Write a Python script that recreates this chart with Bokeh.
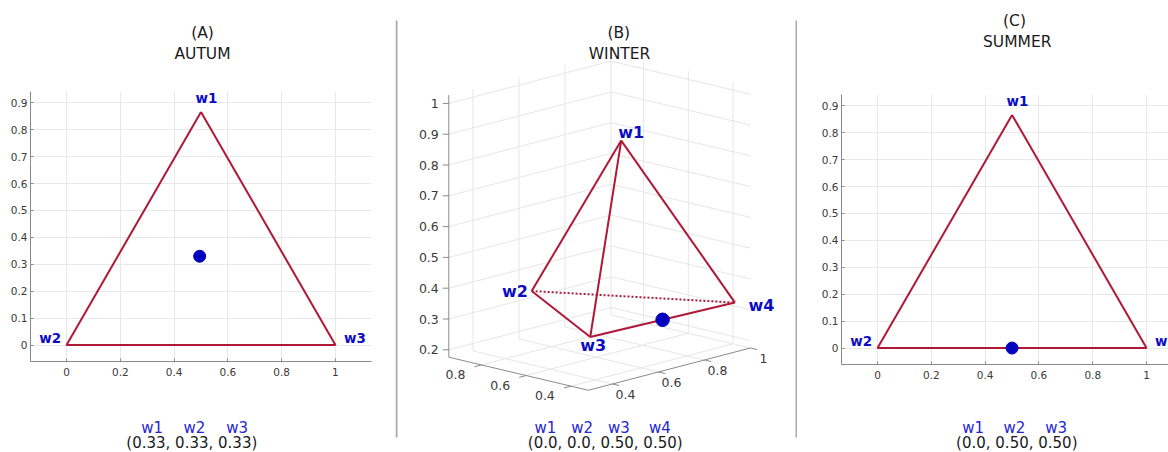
import numpy as np
from bokeh.plotting import figure
from bokeh.models import Range1d, FixedTicker
from bokeh.layouts import row, column
from bokeh.embed import file_html
from bokeh.resources import INLINE
from bokeh.core.properties import value

# ------------------------------------------------------------------ data
panel_letters = ["(A)", "(B)", "(C)"]
panel_seasons = ["AUTUM", "WINTER", "SUMMER"]

# 2-simplex (panels A and C)
names_3 = ["w1", "w2", "w3"]
tri_x = [0.5, 0.0, 1.0]
tri_y = [0.866, 0.0, 0.0]
weights_A = [0.33, 0.33, 0.33]
weights_C = [0.0, 0.50, 0.50]
tuple_A = "(0.33, 0.33, 0.33)"
tuple_C = "(0.0, 0.50, 0.50)"
ticks_x2 = [0, 0.2, 0.4, 0.6, 0.8, 1]
labels_x2 = ["0", "0.2", "0.4", "0.6", "0.8", "1"]
ticks_y2 = [0, 0.1, 0.2, 0.3, 0.4, 0.5, 0.6, 0.7, 0.8, 0.9]
labels_y2 = ["0", "0.1", "0.2", "0.3", "0.4", "0.5", "0.6", "0.7", "0.8", "0.9"]

# 3-simplex (panel B)
names_4 = ["w1", "w2", "w3", "w4"]
tet_x = [0.65, 0.63, 0.35, 0.95]
tet_y = [0.54, 0.92, 0.37, 0.34]
tet_z = [0.88, 0.33, 0.33, 0.33]
weights_B = [0.0, 0.0, 0.50, 0.50]
tuple_B = "(0.0, 0.0, 0.50, 0.50)"
solid_edges = [(0, 1), (0, 2), (0, 3), (1, 2), (2, 3)]
dotted_edges = [(1, 3)]
ticks_x3 = [0.4, 0.6, 0.8, 1.0]
labels_x3 = ["0.4", "0.6", "0.8", "1"]
ticks_y3 = [0.4, 0.6, 0.8]
labels_y3 = ["0.4", "0.6", "0.8"]
ticks_z3 = [0.2, 0.3, 0.4, 0.5, 0.6, 0.7, 0.8, 0.9, 1.0]
labels_z3 = ["0.2", "0.3", "0.4", "0.5", "0.6", "0.7", "0.8", "0.9", "1"]
lims_x3 = [0.295, 1.0]
lims_y3 = [0.322, 0.946]
lims_z3 = [0.176, 1.027]

# ------------------------------------------------------------------ styles
RED = "#b01838"
BLUE_DOT = "#0000be"
BLUE_LAB = "#0c0cc4"
BLUE_LEG = "#2626d2"
GRID = "#e8e8e8"
AXIS = "#8a8a8a"
TICKLAB = "#3a3a3a"
TEXT = "#1a1a1a"
FONT = "DejaVu Sans"
H = 452
LEG_Y = 427
TUP_Y = 442


def text_fig(width, x0, y_top, y_bottom):
    """Blank strip whose frame covers the whole canvas (page-pixel coordinates)."""
    f = figure(width=width, height=y_bottom - y_top, output_backend="svg", toolbar_location=None,
               x_range=Range1d(x0, x0 + width), y_range=Range1d(y_bottom, y_top),
               x_axis_location=None, y_axis_location=None,
               min_border_left=0, min_border_right=0, min_border_top=0, min_border_bottom=0)
    f.grid.visible = False
    f.outline_line_color = None
    f.frame_align = False
    return f


def simplex_column(weights, tup, letter, season, x0, width, top_h, bl, br, bt, x_end,
                   title_pts, legend_x, tuple_x):
    main_bottom = 410
    frame_h = 270
    # ---- titles strip
    t = text_fig(width, x0, 0, top_h)
    t.text(x=[title_pts[0], title_pts[2]], y=[title_pts[1], title_pts[3]], text=[letter, season],
           text_font=value(FONT), text_font_size="15.5px", text_color=TEXT,
           text_align="center", text_baseline="middle")
    # ---- main plot
    mh = main_bottom - top_h
    p = figure(width=width, height=mh, output_backend="svg", toolbar_location=None,
               x_range=Range1d(-0.134, x_end), y_range=Range1d(-0.061, 0.942),
               min_border_left=bl, min_border_right=br, min_border_top=bt,
               min_border_bottom=mh - bt - frame_h)
    p.frame_align = False
    p.outline_line_color = None
    p.xaxis.ticker = FixedTicker(ticks=ticks_x2)
    p.yaxis.ticker = FixedTicker(ticks=ticks_y2)
    p.xgrid.ticker = FixedTicker(ticks=ticks_x2)
    p.ygrid.ticker = FixedTicker(ticks=ticks_y2)
    p.xaxis.major_label_overrides = dict(zip(ticks_x2, labels_x2))
    p.yaxis.major_label_overrides = dict(zip(ticks_y2, labels_y2))
    p.grid.grid_line_color = GRID
    p.grid.grid_line_width = 1
    for ax, st in ((p.xaxis, 6), (p.yaxis, 3)):
        ax.axis_line_color = AXIS
        ax.axis_line_width = 1
        ax.major_tick_line_color = AXIS
        ax.major_tick_in = 3
        ax.major_tick_out = 0
        ax.minor_tick_line_color = None
        ax.major_label_text_font = FONT
        ax.major_label_text_font_size = "10.5px"
        ax.major_label_text_color = TICKLAB
        ax.major_label_standoff = st

    p.line(tri_x + [tri_x[0]], tri_y + [tri_y[0]], line_color=RED, line_width=2)
    # weight point: x = w3 + w1/2, y = w1
    px = [weights[2] + 0.5 * weights[0]]
    py = [weights[0]]
    p.scatter(px, py, size=12, fill_color=BLUE_DOT, line_color=BLUE_DOT)

    offs = [(5.5, -14, "center"), (-5.5, -7, "right"), (8.5, -7, "left")]
    for i, (dx, dy, al) in enumerate(offs):
        p.text(x=[tri_x[i]], y=[tri_y[i]], text=[names_3[i]], text_font=value(FONT),
               text_font_size="13.5px", text_font_style="bold", text_color=BLUE_LAB,
               text_align=al, text_baseline="middle", x_offset=dx, y_offset=dy)
    # ---- legend strip
    b = text_fig(width, x0, main_bottom, H)
    b.text(x=legend_x, y=[LEG_Y] * 3, text=names_3, text_font=value(FONT), text_font_size="15px",
           text_color=BLUE_LEG, text_align="center", text_baseline="middle")
    b.text(x=[tuple_x], y=[TUP_Y], text=[tup], text_font=value(FONT), text_font_size="15px",
           text_color=TEXT, text_align="center", text_baseline="middle")
    return column(t, p, b, spacing=0)


colA = simplex_column(weights_A, tuple_A, panel_letters[0], panel_seasons[0],
                      x0=0, width=395, top_h=75, bl=30, br=24, bt=16, x_end=1.134,
                      title_pts=(202, 32, 202, 53), legend_x=[151.7, 194, 236.7], tuple_x=191.3)
colC = simplex_column(weights_C, tuple_C, panel_letters[2], panel_seasons[2],
                      x0=797, width=371, top_h=70, bl=44, br=0, bt=24, x_end=-0.134 + 327 / 269.0,
                      title_pts=(1014, 20, 1016.7, 41.7), legend_x=[972.7, 1014, 1055.7],
                      tuple_x=1016.3)

# ------------------------------------------------------------------ panel B (3-D view)
XMIN, XMAX = lims_x3
YMIN, YMAX = lims_y3
ZMIN, ZMAX = lims_z3
ORIG = (448.3, 356.7)          # page position of corner (xmin, ymax, zmin)
EX = (230.0, -60.0)            # px per unit of x
EY = (-223.6, -53.0)           # px per unit of y
EZ = (0.0, -308.0)             # px per unit of z


def proj(x, y, z):
    a = np.asarray(x, float) - XMIN
    b = np.asarray(y, float) - YMAX
    c = np.asarray(z, float) - ZMIN
    return (ORIG[0] + a * EX[0] + b * EY[0] + c * EZ[0],
            ORIG[1] + a * EX[1] + b * EY[1] + c * EZ[1])


pB = text_fig(402, 395, 0, H)

gxs, gys = [], []


def seg(p0, p1, xs=gxs, ys=gys):
    sx, sy = proj([p0[0], p1[0]], [p0[1], p1[1]], [p0[2], p1[2]])
    xs.append(list(sx))
    ys.append(list(sy))


for z in ticks_z3:
    seg((XMIN, YMAX, z), (XMAX, YMAX, z))
    seg((XMAX, YMAX, z), (XMAX, YMIN, z))
for x in ticks_x3:
    seg((x, YMAX, ZMIN), (x, YMAX, ZMAX))
    seg((x, YMIN, ZMIN), (x, YMAX, ZMIN))
for y in ticks_y3:
    seg((XMAX, y, ZMIN), (XMAX, y, ZMAX))
    seg((XMIN, y, ZMIN), (XMAX, y, ZMIN))
pB.multi_line(gxs, gys, line_color="#e6e6e6", line_width=1)

axs, ays = [], []
seg((XMIN, YMAX, ZMIN), (XMIN, YMAX, ZMAX), axs, ays)
seg((XMIN, YMAX, ZMIN), (XMIN, YMIN, ZMIN), axs, ays)
seg((XMIN, YMIN, ZMIN), (XMAX, YMIN, ZMIN), axs, ays)
for y in ticks_y3:
    seg((XMIN, y, ZMIN), (XMIN - 0.03, y, ZMIN), axs, ays)
for x in ticks_x3:
    seg((x, YMIN, ZMIN), (x, YMIN - 0.03, ZMIN), axs, ays)
pB.multi_line(axs, ays, line_color=AXIS, line_width=1)

zx, zy = proj([XMIN] * len(ticks_z3), [YMAX] * len(ticks_z3), ticks_z3)
pB.segment(x0=zx - 6, y0=zy, x1=zx, y1=zy, line_color=AXIS, line_width=1)
pB.text(x=zx - 10, y=zy, text=labels_z3, text_font=value(FONT), text_font_size="12.5px",
        text_color=TICKLAB, text_align="right", text_baseline="middle")

yx, yy = proj([XMIN] * len(ticks_y3), ticks_y3, [ZMIN] * len(ticks_y3))
pB.text(x=yx, y=yy, text=labels_y3, text_font=value(FONT), text_font_size="12.5px",
        text_color=TICKLAB, text_align="center", text_baseline="middle",
        x_offset=-26, y_offset=9.5)
xx, xy = proj(ticks_x3, [YMIN] * len(ticks_x3), [ZMIN] * len(ticks_x3))
pB.text(x=xx, y=xy, text=labels_x3, text_font=value(FONT), text_font_size="12.5px",
        text_color=TICKLAB, text_align="center", text_baseline="middle",
        x_offset=13, y_offset=10.5)

vx, vy = proj(tet_x, tet_y, tet_z)
for i, j in solid_edges:
    pB.line([vx[i], vx[j]], [vy[i], vy[j]], line_color=RED, line_width=2)
for i, j in dotted_edges:
    pB.line([vx[i], vx[j]], [vy[i], vy[j]], line_color=RED, line_width=2, line_dash="2 2")

wb = np.asarray(weights_B)
dsx, dsy = proj([float(np.dot(wb, tet_x))], [float(np.dot(wb, tet_y))], [float(np.dot(wb, tet_z))])
pB.scatter(dsx, dsy, size=13.5, fill_color=BLUE_DOT, line_color=BLUE_DOT)

offsB = [(10, -8.5), (-16.7, 0), (3, 9), (26.5, 3.3)]
pB.text(x=vx, y=vy, text=names_4, text_font=value(FONT), text_font_size="16px",
        text_font_style="bold", text_color=BLUE_LAB, text_align="center", text_baseline="middle",
        x_offset=[o[0] for o in offsB], y_offset=[o[1] for o in offsB])

pB.text(x=[618.3, 619], y=[32, 53], text=[panel_letters[1], panel_seasons[1]],
        text_font=value(FONT), text_font_size="15.5px", text_color=TEXT,
        text_align="center", text_baseline="middle")
pB.text(x=[545, 581.7, 618.3, 659.3], y=[LEG_Y] * 4, text=names_4,
        text_font=value(FONT), text_font_size="15px", text_color=BLUE_LEG,
        text_align="center", text_baseline="middle")
pB.text(x=[604.7], y=[TUP_Y], text=[tuple_B], text_font=value(FONT), text_font_size="15px",
        text_color=TEXT, text_align="center", text_baseline="middle")

pB.segment(x0=[396, 796], y0=[20, 20], x1=[396, 796], y1=[437, 437],
           line_color="#a9a9a9", line_width=2)

layout = row(colA, pB, colC, spacing=0)
open("out.html", "w").write(file_html(layout, INLINE))
